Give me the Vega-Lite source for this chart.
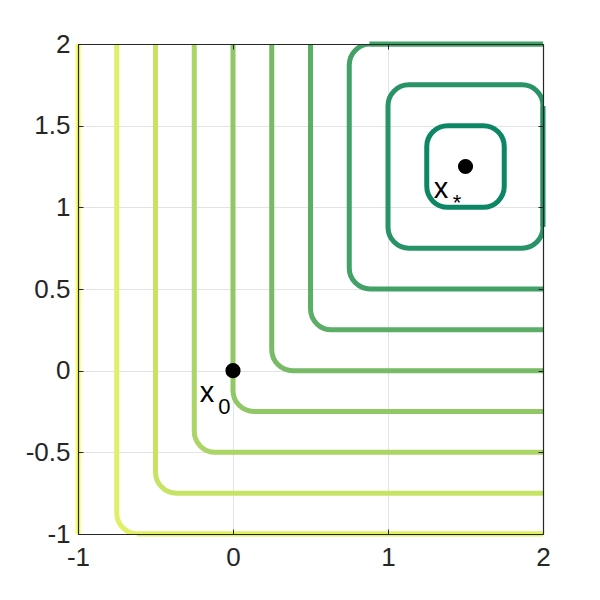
{
  "$schema": "https://vega.github.io/schema/vega-lite/v6.json",
  "width": 465,
  "height": 490,
  "autosize": {"type": "none"},
  "padding": {"left": 78, "top": 44, "right": 57, "bottom": 66},
  "background": "white",
  "config": {
    "view": {"stroke": null},
    "font": "Liberation Sans",
    "axis": {
      "labelFont": "Liberation Sans",
      "labelFontSize": 26,
      "labelColor": "#262626",
      "tickColor": "#262626",
      "domainColor": "#262626",
      "domainWidth": 1.2,
      "tickSize": -5,
      "gridColor": "#e3e3e3",
      "gridWidth": 1
    }
  },
  "datasets": {
    "contours": [
      {"level": 0.25, "x1": 1.25, "x2": 1.75, "y1": 1.0, "y2": 1.5},
      {"level": 0.5, "x1": 1.0, "x2": 2.0, "y1": 0.75, "y2": 1.75},
      {"level": 0.75, "x1": 0.75, "x2": 2.25, "y1": 0.5, "y2": 2.0},
      {"level": 1.0, "x1": 0.5, "x2": 2.5, "y1": 0.25, "y2": 2.25},
      {"level": 1.25, "x1": 0.25, "x2": 2.75, "y1": 0.0, "y2": 2.5},
      {"level": 1.5, "x1": 0.0, "x2": 3.0, "y1": -0.25, "y2": 2.75},
      {"level": 1.75, "x1": -0.25, "x2": 3.25, "y1": -0.5, "y2": 3.0},
      {"level": 2.0, "x1": -0.5, "x2": 3.5, "y1": -0.75, "y2": 3.25},
      {"level": 2.25, "x1": -0.75, "x2": 3.75, "y1": -1.0, "y2": 3.5},
      {"level": 2.5, "x1": -1.0, "x2": 4.0, "y1": -1.25, "y2": 3.75}
    ],
    "edges": [
      {"level": 2.5, "x": -1.0, "x2": -1.0, "y": -1.0, "y2": 2.0},
      {"level": 2.25, "x": -0.62, "x2": 2.0, "y": -1.0, "y2": -1.0},
      {"level": 0.75, "x": 0.88, "x2": 2.0, "y": 2.0, "y2": 2.0},
      {"level": 0.5, "x": 2.0, "x2": 2.0, "y": 0.88, "y2": 1.62}
    ],
    "points": [
      {"x": 0, "y": 0, "name": "x0"},
      {"x": 1.5, "y": 1.25, "name": "xstar"}
    ],
    "labels": [
      {"x": -0.168, "y": -0.138, "text": "x"},
      {"x": 1.342, "y": 1.112, "text": "x"}
    ],
    "subs": [
      {"x": -0.055, "y": -0.222, "text": "0"},
      {"x": 1.445, "y": 1.025, "text": "*"}
    ]
  },
  "layer": [
    {
      "data": {"name": "contours"},
      "mark": {"type": "rect", "fill": null, "filled": false, "strokeWidth": 5, "cornerRadius": 21, "clip": true},
      "encoding": {
        "x": {"field": "x1", "type": "quantitative", "scale": {"domain": [-1, 2], "nice": false, "zero": false},
              "axis": {"orient": "bottom", "values": [-1, 0, 1, 2], "title": null, "labelPadding": 10, "labelFlush": false,
                       "labelFontSize": 26, "labelExpr": "datum.value + ''", "domain": false, "ticks": false, "zindex": 0}},
        "x2": {"field": "x2"},
        "y": {"field": "y1", "type": "quantitative", "scale": {"domain": [-1, 2], "nice": false, "zero": false},
              "axis": {"orient": "left", "values": [-1, -0.5, 0, 0.5, 1, 1.5, 2], "title": null, "labelPadding": 8, "labelFlush": false,
                       "labelFontSize": 26, "labelExpr": "datum.value + ''", "domain": false, "ticks": false, "zindex": 0}},
        "y2": {"field": "y2"},
        "stroke": {"field": "level", "type": "quantitative", "legend": null,
                   "scale": {"domain": [0.13, 2.54], "range": ["#008066", "#ffff66"], "interpolate": "rgb", "clamp": true}}
      }
    },
    {
      "data": {"name": "edges"},
      "mark": {"type": "rule", "strokeWidth": 5, "clip": false},
      "encoding": {
        "x": {"field": "x", "type": "quantitative", "axis": null},
        "x2": {"field": "x2"},
        "y": {"field": "y", "type": "quantitative", "axis": null},
        "y2": {"field": "y2"},
        "stroke": {"field": "level", "type": "quantitative", "legend": null,
                   "scale": {"domain": [0.13, 2.54], "range": ["#008066", "#ffff66"], "interpolate": "rgb", "clamp": true}}
      }
    },
    {
      "data": {"name": "points"},
      "mark": {"type": "point", "filled": true, "color": "black", "size": 230, "opacity": 1},
      "encoding": {
        "x": {"field": "x", "type": "quantitative",
              "axis": {"orient": "top", "values": [-1, 0, 1, 2], "labels": false, "grid": false, "title": null, "zindex": 1}},
        "y": {"field": "y", "type": "quantitative",
              "axis": {"orient": "right", "values": [-1, -0.5, 0, 0.5, 1, 1.5, 2], "labels": false, "grid": false, "title": null, "zindex": 1}}
      }
    },
    {
      "data": {"name": "labels"},
      "mark": {"type": "text", "fontSize": 29, "color": "black", "align": "center", "baseline": "middle", "font": "Liberation Sans"},
      "encoding": {
        "x": {"field": "x", "type": "quantitative",
              "axis": {"orient": "bottom", "values": [-1, 0, 1, 2], "labels": false, "grid": false, "title": null, "zindex": 1}},
        "y": {"field": "y", "type": "quantitative",
              "axis": {"orient": "left", "values": [-1, -0.5, 0, 0.5, 1, 1.5, 2], "labels": false, "grid": false, "title": null, "zindex": 1}},
        "text": {"field": "text"}
      }
    },
    {
      "data": {"name": "subs"},
      "mark": {"type": "text", "fontSize": 22, "color": "black", "align": "center", "baseline": "middle", "font": "Liberation Sans"},
      "encoding": {
        "x": {"field": "x", "type": "quantitative", "axis": null},
        "y": {"field": "y", "type": "quantitative", "axis": null},
        "text": {"field": "text"}
      }
    }
  ],
  "resolve": {"axis": {"x": "independent", "y": "independent"}}
}
